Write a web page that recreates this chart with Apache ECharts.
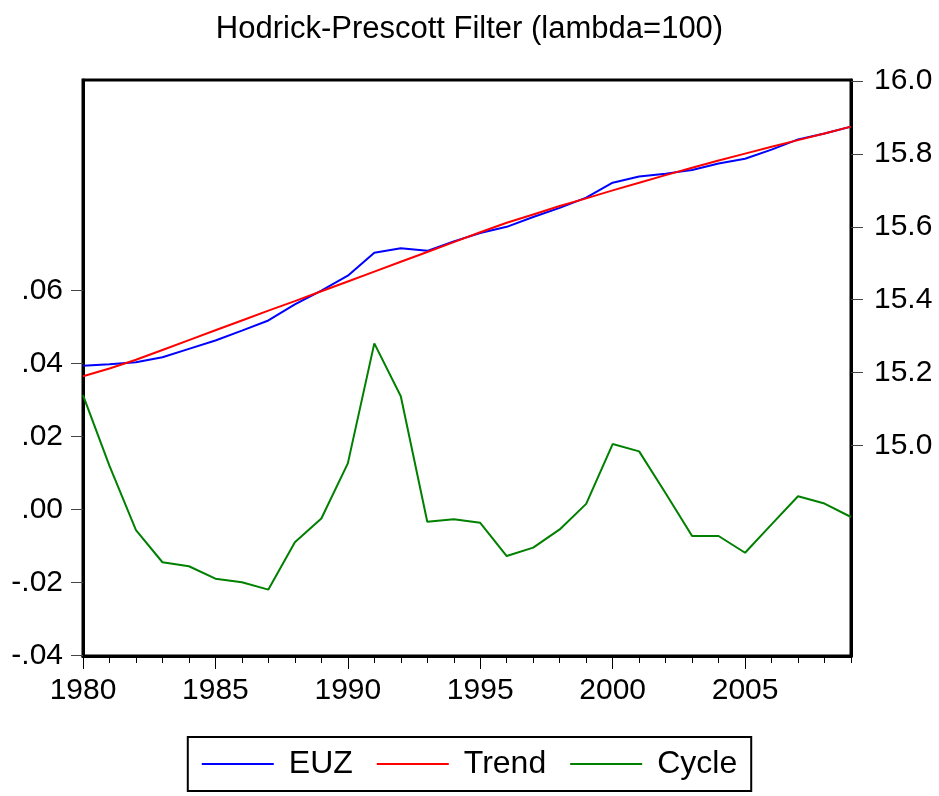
<!DOCTYPE html>
<html>
<head>
<meta charset="utf-8">
<title>Hodrick-Prescott Filter</title>
<script src="https://cdn.jsdelivr.net/npm/echarts@6/dist/echarts.min.js"></script>
<style>
  html, body { margin: 0; padding: 0; background: #fff; }
  #chart { width: 939px; height: 796px; }
</style>
</head>
<body>
<div id="chart"></div>
<script>
// Annual observations, 1980-2009
const years = ['1980','1981','1982','1983','1984','1985','1986','1987','1988','1989',
               '1990','1991','1992','1993','1994','1995','1996','1997','1998','1999',
               '2000','2001','2002','2003','2004','2005','2006','2007','2008','2009'];

// Log level of the series (right axis)
const euz = [15.219, 15.223, 15.228, 15.242, 15.265, 15.288, 15.315, 15.343, 15.387, 15.425,
             15.466, 15.529, 15.541, 15.534, 15.560, 15.583, 15.600, 15.627, 15.652, 15.680,
             15.721, 15.738, 15.746, 15.756, 15.774, 15.787, 15.812, 15.840, 15.856, 15.875];

// HP trend component (right axis)
const trend = [15.190, 15.211, 15.235, 15.262, 15.289, 15.316, 15.343, 15.370, 15.396, 15.423,
               15.450, 15.477, 15.504, 15.531, 15.558, 15.585, 15.611, 15.634, 15.657, 15.678,
               15.700, 15.721, 15.742, 15.762, 15.782, 15.801, 15.820, 15.838, 15.856, 15.875];

// Cyclical component (left axis)
const cycle = [0.0313, 0.0119, -0.0057, -0.0145, -0.0156, -0.0190, -0.0200, -0.0220, -0.0090, -0.0025,
               0.0126, 0.0455, 0.0310, -0.0034, -0.0027, -0.0037, -0.0128, -0.0105, -0.0055, 0.0015,
               0.0179, 0.0159, 0.0044, -0.0073, -0.0073, -0.0119, -0.0041, 0.0036, 0.0016, -0.0021];

// Tick values shown on each vertical axis
const leftTicks = [-0.04, -0.02, 0.00, 0.02, 0.04, 0.06];
const rightTicks = [15.0, 15.2, 15.4, 15.6, 15.8, 16.0];

const FONT = 'Liberation Sans, Arial, Helvetica, sans-serif';

function fmtLeft(v) {
  const s = Math.abs(v).toFixed(2).replace(/^0/, '');
  return (v < -1e-9 ? '-' : '') + s;
}

const chart = echarts.init(document.getElementById('chart'), null, { renderer: 'canvas' });

const option = {
  backgroundColor: '#ffffff',
  animation: false,
  title: {
    text: 'Hodrick-Prescott Filter (lambda=100)',
    left: 'center',
    top: 9,
    textStyle: { fontFamily: FONT, fontSize: 31, fontWeight: 'normal', color: '#000' }
  },
  grid: {
    left: 83, right: 88, top: 80, bottom: 140,
    show: true, borderColor: '#000', borderWidth: 3, backgroundColor: '#fff'
  },
  legend: {
    left: 'center',
    top: 737,
    itemWidth: 72,
    itemHeight: 14,
    itemGap: 24,
    padding: [11, 14, 11, 14],
    borderColor: '#000',
    borderWidth: 2,
    borderRadius: 0,
    icon: 'path://M0,6L72,6L72,8L0,8Z',
    textStyle: { fontFamily: FONT, fontSize: 32, color: '#000', padding: [0, 0, 0, 10] },
    data: ['EUZ', 'Trend', 'Cycle']
  },
  xAxis: [
    {
      type: 'category',
      data: years,
      boundaryGap: false,
      axisLine: { show: true, onZero: false, lineStyle: { color: '#000', width: 3 } },
      axisTick: { show: true, interval: 0, length: 7, lineStyle: { color: '#000', width: 1 } },
      axisLabel: { interval: 4, margin: 20, fontFamily: FONT, fontSize: 30, color: '#000' },
      splitLine: { show: false }
    },
    {
      type: 'category',
      data: years,
      boundaryGap: false,
      position: 'bottom',
      axisLine: { show: false, onZero: false },
      axisTick: { show: true, interval: 4, length: 13, lineStyle: { color: '#000', width: 1 } },
      axisLabel: { show: false },
      splitLine: { show: false }
    }
  ],
  yAxis: [
    {
      type: 'value',
      position: 'left',
      min: -0.0402, max: 0.1177,
      axisLine: { show: true, onZero: false, lineStyle: { color: '#000', width: 3 } },
      axisTick: { show: true, length: 12, customValues: leftTicks, lineStyle: { color: '#444', width: 1 } },
      axisLabel: { customValues: leftTicks, margin: 20, fontFamily: FONT, fontSize: 30, color: '#000', formatter: fmtLeft },
      splitLine: { show: false }
    },
    {
      type: 'value',
      position: 'right',
      min: 14.422, max: 16.003,
      axisLine: { show: true, onZero: false, lineStyle: { color: '#000', width: 3 } },
      axisTick: { show: true, length: 12, customValues: rightTicks, lineStyle: { color: '#444', width: 1 } },
      axisLabel: { customValues: rightTicks, margin: 23, fontFamily: FONT, fontSize: 30, color: '#000',
                   formatter: v => v.toFixed(1) },
      splitLine: { show: false }
    }
  ],
  series: [
    {
      name: 'EUZ', type: 'line', xAxisIndex: 0, yAxisIndex: 1, data: euz,
      showSymbol: false, symbol: 'none', color: '#0000ff',
      lineStyle: { color: '#0000ff', width: 2 }, z: 3
    },
    {
      name: 'Trend', type: 'line', xAxisIndex: 0, yAxisIndex: 1, data: trend,
      showSymbol: false, symbol: 'none', color: '#ff0000',
      lineStyle: { color: '#ff0000', width: 2 }, z: 4
    },
    {
      name: 'Cycle', type: 'line', xAxisIndex: 0, yAxisIndex: 0, data: cycle,
      showSymbol: false, symbol: 'none', color: '#008000',
      lineStyle: { color: '#008000', width: 2 }, z: 3
    }
  ]
};

chart.setOption(option);
</script>
</body>
</html>
